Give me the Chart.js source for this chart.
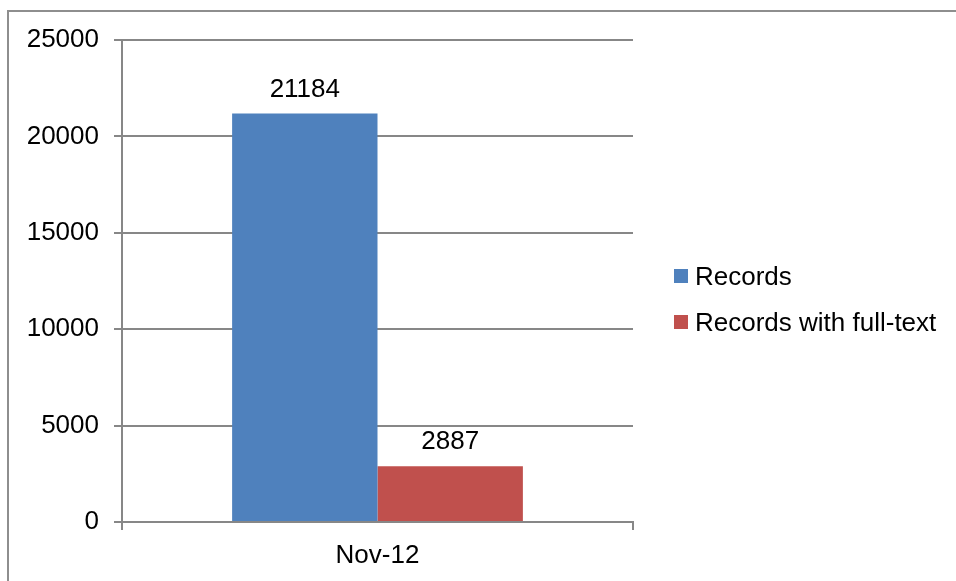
<!DOCTYPE html>
<html>
<head>
<meta charset="utf-8">
<script src="https://cdn.jsdelivr.net/npm/chart.js@4"></script>
<style>
  body { margin: 0; overflow: hidden; background: #fff; font-family: "Liberation Sans", Arial, sans-serif; }
  #wrap { position: relative; width: 956px; height: 581px; overflow: hidden; }
  #frame { position: absolute; left: 7px; top: 10px; width: 2000px; height: 2000px;
           border-left: 2px solid #8e8e8e; border-top: 2px solid #8e8e8e; }
  #box { position: absolute; left: 0; top: 0; width: 956px; height: 581px; }
  #legend { position: absolute; left: 674px; top: 253px; }
  .item { display: flex; align-items: center; height: 46px; font-size: 26px; color: #000; white-space: nowrap; }
  .swatch { width: 14px; height: 14px; margin-right: 7px; }
</style>
</head>
<body>
<div id="wrap">
  <div id="frame"></div>
  <div id="box"><canvas id="chart"></canvas></div>
  <div id="legend"></div>
</div>
<script>
// datos del gráfico
const categories = ['Nov-12'];
const seriesNames = ['Records', 'Records with full-text'];
const records = [21184];
const recordsFullText = [2887];
const yTicks = [0, 5000, 10000, 15000, 20000, 25000];

const colors = ['#4f81bd', '#c0504d'];
const gridColor = '#878787';
const FONT = { family: '"Liberation Sans", Arial, sans-serif', size: 26 };

// etiquetas de valor encima de cada barra
const valueLabels = {
  id: 'valueLabels',
  afterDatasetsDraw(chart) {
    const ctx = chart.ctx;
    ctx.save();
    ctx.font = `${FONT.size}px ${FONT.family}`;
    ctx.fillStyle = '#000';
    ctx.textAlign = 'center';
    ctx.textBaseline = 'alphabetic';
    chart.data.datasets.forEach((ds, i) => {
      chart.getDatasetMeta(i).data.forEach((bar, j) => {
        ctx.fillText(String(ds.data[j]), bar.x, bar.y - 17);
      });
    });
    ctx.restore();
  }
};

window.addEventListener('load', () => {
  const ctx = document.getElementById('chart').getContext('2d');
  const chart = new Chart(ctx, {
    type: 'bar',
    data: {
      labels: categories,
      datasets: [
        { label: seriesNames[0], data: records, backgroundColor: colors[0] },
        { label: seriesNames[1], data: recordsFullText, backgroundColor: colors[1] }
      ]
    },
    options: {
      responsive: true,
      maintainAspectRatio: false,
      animation: false,
      layout: { padding: { left: 0, top: 40, right: 323, bottom: 0 } },
      datasets: { bar: { categoryPercentage: 0.569, barPercentage: 1 } },
      scales: {
        x: {
          grid: { display: true, drawOnChartArea: false, drawTicks: true, tickLength: 8, color: gridColor, lineWidth: 2 },
          border: { display: true, color: gridColor, width: 2 },
          ticks: { color: '#000', font: FONT, padding: 10 },
          afterFit: (s) => { s.height = 59; }
        },
        y: {
          min: 0,
          max: 25000,
          afterBuildTicks: (s) => { s.ticks = yTicks.map(v => ({ value: v })); },
          grid: { color: gridColor, lineWidth: 2, tickLength: 8 },
          border: { display: true, color: gridColor, width: 2 },
          ticks: { color: '#000', font: FONT, padding: 15, callback: (v) => String(v) },
          afterFit: (s) => { s.width = 122; }
        }
      },
      plugins: {
        legend: { display: false },
        tooltip: { enabled: false }
      }
    },
    plugins: [valueLabels]
  });

  // leyenda en HTML a la derecha
  const legend = document.getElementById('legend');
  chart.data.datasets.forEach((ds) => {
    const row = document.createElement('div');
    row.className = 'item';
    const sw = document.createElement('span');
    sw.className = 'swatch';
    sw.style.background = ds.backgroundColor;
    row.appendChild(sw);
    row.appendChild(document.createTextNode(ds.label));
    legend.appendChild(row);
  });
});
</script>
</body>
</html>
